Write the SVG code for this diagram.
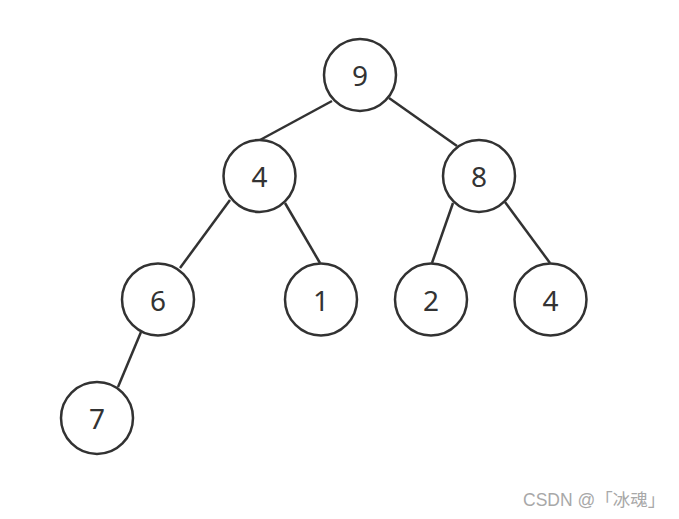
<svg xmlns="http://www.w3.org/2000/svg" width="679" height="519" viewBox="0 0 679 519">
<style>
.n circle{fill:#fff;stroke:#323232;stroke-width:2.5}
.n text{font-family:"Noto Sans","Open Sans",sans-serif;font-size:28px;fill:#333;text-anchor:middle;dominant-baseline:central}
#edges line{stroke:#323232;stroke-width:2.5}
.wm{font-family:"Liberation Sans","Noto Sans CJK SC",sans-serif;font-size:17.5px;fill:#a8a8a8}
</style>
<rect width="679" height="519" fill="#fff"/>
<g id="edges">
<line x1="332" y1="101" x2="260" y2="140"/>
<line x1="389" y1="98" x2="457" y2="146"/>
<line x1="230" y1="200" x2="180" y2="268"/>
<line x1="285" y1="203" x2="320" y2="263"/>
<line x1="453" y1="203" x2="432" y2="263"/>
<line x1="505" y1="202" x2="550" y2="263"/>
<line x1="141" y1="332" x2="118" y2="387"/>
</g>
<g id="n9" class="n"><circle cx="360" cy="75" r="36"/><text x="360" y="75">9</text></g>
<g id="n4" class="n"><circle cx="259.5" cy="176" r="36"/><text x="259.5" y="176">4</text></g>
<g id="n8" class="n"><circle cx="479" cy="176" r="36"/><text x="479" y="176">8</text></g>
<g id="n6" class="n"><circle cx="158" cy="299.5" r="36"/><text x="158" y="299.5">6</text></g>
<g id="n1" class="n"><circle cx="321" cy="299.5" r="36"/><text x="321" y="299.5">1</text></g>
<g id="n2" class="n"><circle cx="431" cy="299.5" r="36"/><text x="431" y="299.5">2</text></g>
<g id="n4b" class="n"><circle cx="550.5" cy="299.5" r="36"/><text x="550.5" y="299.5">4</text></g>
<g id="n7" class="n"><circle cx="97" cy="418" r="36"/><text x="97" y="418">7</text></g>
<text class="wm" x="523" y="506">CSDN @「冰魂」</text>
</svg>
